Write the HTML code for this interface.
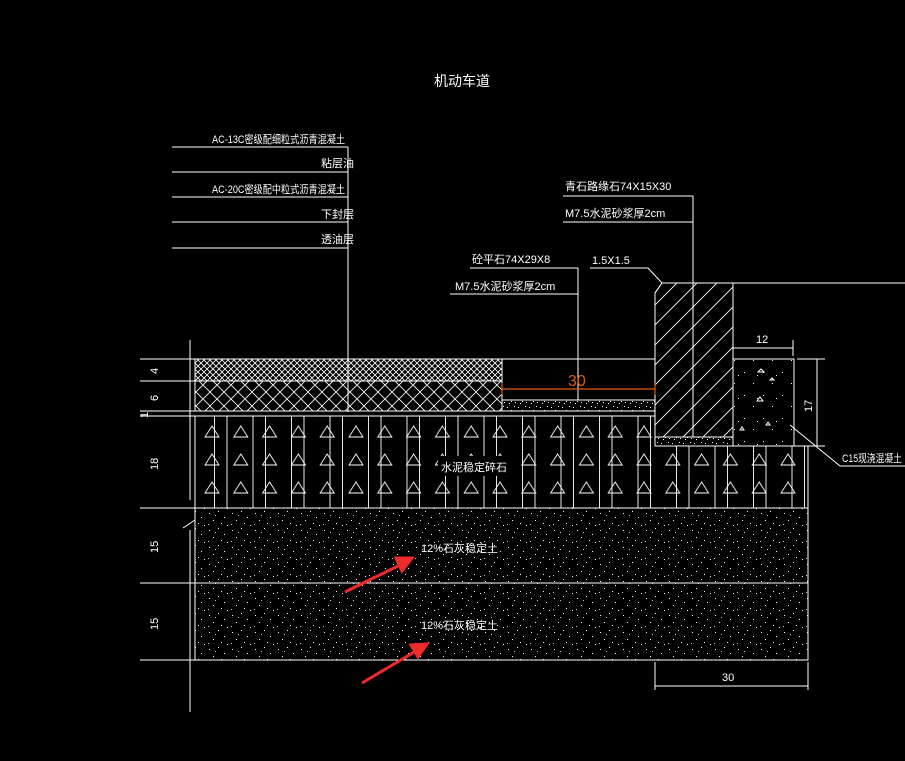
<!DOCTYPE html>
<html><head><meta charset="utf-8"><style>
html,body{margin:0;padding:0;background:#000;}
svg{display:block}
text{font-family:"Liberation Sans","Noto Sans CJK SC",sans-serif;fill:#fff;font-size:11px}
</style></head><body>
<svg width="905" height="761" viewBox="0 0 905 761" xmlns="http://www.w3.org/2000/svg">
<defs>
<pattern id="fine" width="6" height="6" patternUnits="userSpaceOnUse">
<path d="M0 0L6 6M6 0L0 6" stroke="#fff" stroke-width="0.8"/>
</pattern>
<pattern id="coarse" width="14" height="14" patternUnits="userSpaceOnUse">
<path d="M0 0L14 14M14 0L0 14" stroke="#fff" stroke-width="0.8"/>
</pattern>
<pattern id="dots" width="23" height="17" patternUnits="userSpaceOnUse">
<rect x="2" y="3" width="1" height="1" fill="#fff"/><rect x="11" y="1" width="1" height="1" fill="#fff"/>
<rect x="17" y="7" width="1" height="1" fill="#fff"/><rect x="6" y="10" width="1" height="1" fill="#fff"/>
<rect x="14" y="13" width="1" height="1" fill="#fff"/><rect x="20" y="15" width="1" height="1" fill="#fff"/>
<rect x="8" y="5" width="1" height="1" fill="#ccc"/><rect x="1" y="14" width="1" height="1" fill="#ccc"/>
</pattern>
<pattern id="sand" width="11" height="9" patternUnits="userSpaceOnUse">
<rect x="1" y="2" width="1" height="1" fill="#fff"/><rect x="5" y="5" width="1" height="1" fill="#fff"/>
<rect x="8" y="1" width="1" height="1" fill="#fff"/><rect x="3" y="7" width="1" height="1" fill="#fff"/><rect x="9" y="6" width="1" height="1" fill="#fff"/>
</pattern>
<pattern id="sparse" width="19" height="23" patternUnits="userSpaceOnUse">
<rect x="3" y="4" width="1" height="1" fill="#fff"/><rect x="12" y="15" width="1" height="1" fill="#fff"/><rect x="16" y="7" width="1" height="1" fill="#fff"/>
</pattern>
<pattern id="hatch" width="20" height="20" patternUnits="userSpaceOnUse">
<path d="M0 20L20 0M-5 5L5 -5M15 25L25 15" stroke="#fff" stroke-width="0.9"/>
</pattern>
<pattern id="tri" x="198" y="420" width="28.8" height="28" patternUnits="userSpaceOnUse">
<path d="M14 6L7 17H21Z" fill="none" stroke="#fff" stroke-width="0.9"/>
</pattern>
<pattern id="vl" x="214" y="0" width="38.5" height="10" patternUnits="userSpaceOnUse">
<path d="M0.5 0V10M13 0V10" stroke="#fff" stroke-width="0.9"/>
</pattern>
</defs>
<g stroke="#fff" stroke-width="1" fill="none">
<path d="M172 147H348M172 172H348M172 197H348M172 222H348M172 248H348M348 147V412"/>
<rect x="195" y="359" width="307" height="22" fill="url(#fine)"/>
<rect x="195" y="381" width="307" height="30" fill="url(#coarse)"/>
<path d="M195 416H655"/>
<path d="M195 416H655V446H808V508H195Z" fill="url(#tri)" stroke="none"/>
<path d="M195 416H655V446H808V508H195Z" fill="url(#vl)" stroke="none"/>
<rect x="438" y="456" width="78" height="20" fill="#000" stroke="none"/>
<path d="M195 416V508H808V446H655"/>
<rect x="195" y="508" width="613" height="75" fill="url(#dots)"/>
<rect x="195" y="583" width="613" height="77" fill="url(#dots)"/>
<path d="M502 359H655"/>
<rect x="502" y="400" width="153" height="11" fill="url(#sand)"/>
<path d="M502 411H655"/>
<path d="M655 293L662 283H733V437H655Z" fill="#000"/>
<path d="M655 293L662 283H733V437H655Z" fill="url(#hatch)"/>
<path d="M693 283V437M733 283H905"/>
<rect x="655" y="437" width="78" height="9" fill="#000"/>
<rect x="655" y="437" width="78" height="9" fill="url(#sand)"/>
<rect x="733" y="359" width="61" height="87" fill="#000"/>
<rect x="733" y="359" width="61" height="87" fill="url(#sparse)"/>
<path d="M758 372l3 -3 3 3z M757 401l3 -4 3 4z M766 425l2 -3 2 3z M770 380l2 -2 2 2z M740 430l2 -3 2 3z"/>
<path d="M563 196H693M563 222H693M693 196V283"/>
<path d="M470 268H578M450 294H578M578 268V400"/>
<path d="M590 268H648L662 283"/>
<path d="M790 425L840 466H905"/>
<path d="M733 348H793M793 340V356M733 344V352"/>
<path d="M797 359H825M797 446H825M817 359V446"/>
<path d="M190 340V500M190 530V712M140 359H195M140 381H195M140 411H195M140 416H195M140 508H195M140 583H195M140 660H195"/>
<path d="M183 528L195 520"/>
<path d="M655 662V690M808 662V690M655 686H808"/>
</g>
<g stroke="#e05a10" stroke-width="1.2">
<path d="M502 389H655M502 383V395M655 383V395"/>
</g>
<text x="568" y="386" style="fill:#e05a10;font-size:16px">30</text>
<g stroke="#ee2a2a" stroke-width="3" fill="#ee2a2a">
<path d="M345 592L400 565"/><path d="M412 558L396 558L402 571Z"/>
<path d="M362 683L416 651"/><path d="M427 644L411 645L418 657Z"/>
</g>
<text x="434" y="86" style="font-size:14px">机动车道</text>
<text x="212" y="143" textLength="133" lengthAdjust="spacingAndGlyphs">AC-13C密级配细粒式沥青混凝土</text>
<text x="321" y="167">粘层油</text>
<text x="212" y="193" textLength="133" lengthAdjust="spacingAndGlyphs">AC-20C密级配中粒式沥青混凝土</text>
<text x="321" y="218">下封层</text>
<text x="321" y="243">透油层</text>
<text x="565" y="190">青石路缘石74X15X30</text>
<text x="565" y="217">M7.5水泥砂浆厚2cm</text>
<text x="472" y="263">砼平石74X29X8</text>
<text x="455" y="290">M7.5水泥砂浆厚2cm</text>
<text x="592" y="264">1.5X1.5</text>
<text x="756" y="343">12</text>
<text x="842" y="462" textLength="60" lengthAdjust="spacingAndGlyphs">C15现浇混凝土</text>
<text x="441" y="471">水泥稳定碎石</text>
<text x="421" y="552">12%石灰稳定土</text>
<text x="421" y="629">12%石灰稳定土</text>
<text x="722" y="681">30</text>
<g>
<text transform="translate(158,374) rotate(-90)">4</text>
<text transform="translate(158,401) rotate(-90)">6</text>
<text transform="translate(148,418) rotate(-90)">1</text>
<text transform="translate(158,470) rotate(-90)">18</text>
<text transform="translate(158,553) rotate(-90)">15</text>
<text transform="translate(158,630) rotate(-90)">15</text>
<text transform="translate(812,412) rotate(-90)">17</text>
</g>
</svg>
</body></html>
